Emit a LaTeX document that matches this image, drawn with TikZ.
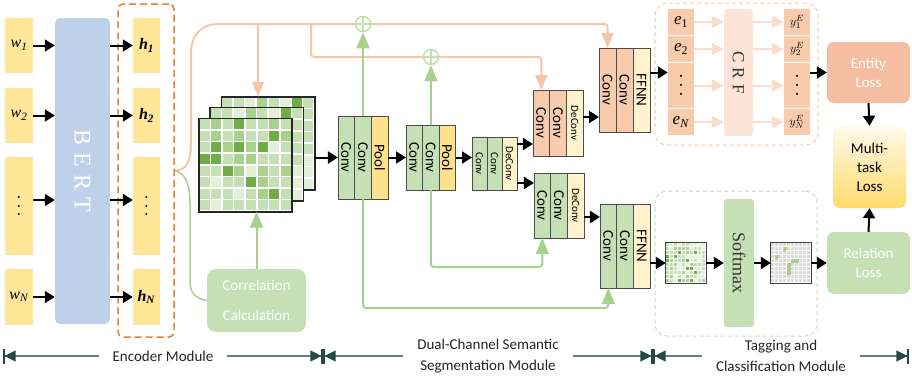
\documentclass[tikz,border=0pt]{standalone}
\usepackage{fontspec}
\setmainfont{Liberation Serif}
\setsansfont{Carlito}
\usepackage{graphicx}
\usetikzlibrary{arrows.meta,positioning,calc}

% colours
\definecolor{tokyel}{HTML}{FFE699}
\definecolor{bertblue}{HTML}{BFD1EA}
\definecolor{grn}{HTML}{C5E0B4}
\definecolor{org}{HTML}{F8CBAD}
\definecolor{lyel}{HTML}{FFF2CC}
\definecolor{poolyel}{HTML}{FFE18C}
\definecolor{orln}{HTML}{F7C6A5}
\definecolor{grln}{HTML}{A9D18E}
\definecolor{crfbg}{HTML}{FCE4D6}
\definecolor{crfline}{HTML}{FADCC8}
\definecolor{lossorg}{HTML}{F5BEA2}
\definecolor{encdash}{HTML}{ED7D31}
\definecolor{dimln}{HTML}{244848}
\definecolor{mtop}{HTML}{FFFAEB}
\definecolor{mbot}{HTML}{FFDA6A}
\definecolor{mc0}{HTML}{E2F0D9}
\definecolor{mc1}{HTML}{C5E0B4}
\definecolor{mc2}{HTML}{A9D18E}
\definecolor{mc3}{HTML}{70AD47}
\definecolor{gc}{HTML}{DADADA}

\newcommand{\vtxt}[1]{\rotatebox{-90}{#1}}
\newcommand{\vdts}{\rotatebox{90}{.\hspace{4.5pt}.\hspace{4.5pt}.}}
\newcommand{\pickshade}[1]{%
  \ifnum#1<1 \def\cc{mc3}\else\ifnum#1<3 \def\cc{mc2}\else\ifnum#1<8 \def\cc{mc1}\else\def\cc{mc0}\fi\fi\fi}

\begin{document}
\begin{tikzpicture}[x=1pt,y=-1pt,
    tok/.style={fill=tokyel, inner sep=0pt, minimum width=28pt, font=\fontsize{16}{16}\selectfont},
    col/.style={draw=black!70, line width=0.9pt, inner sep=0pt, outer sep=0pt, minimum width=16.7pt, font=\sffamily\fontsize{15}{15}\selectfont},
    scol/.style={col, font=\sffamily\fontsize{11}{11}\selectfont},
    blk/.style={line width=2pt, -{Triangle[length=10pt,width=12pt]}},
    orarr/.style={draw=orln, line width=2pt, rounded corners=3pt, -{Triangle[length=15pt,width=12pt]}},
    grarr/.style={draw=grln, line width=2pt, rounded corners=3pt, -{Triangle[length=16pt,width=13pt]}},
    crfarr/.style={draw=crfline, line width=2pt, -{Triangle[length=12pt,width=12pt]}},
    oplus/.style={circle, draw=grln!70, line width=1.5pt, fill=white, minimum size=15pt, inner sep=0pt},
    ecell/.style={fill=org, inner sep=0pt, minimum width=26pt, minimum height=26pt},
    loss/.style={rounded corners=7pt, inner sep=0pt, minimum width=83pt, align=center, text=white, font=\sffamily\fontsize{15}{19}\selectfont},
    region/.style={dash pattern=on 4pt off 3pt, rounded corners=12pt, line width=1pt, inner sep=0pt},
    cmat/.style={fill=white, minimum size=93pt, inner sep=0pt},
    smat/.style={fill=white, minimum size=40pt, inner sep=0pt},
    dim/.style={draw=dimln!70, line width=1.3pt,
      {Bar[width=15pt,line width=1.6pt,color=dimln]Triangle[length=11pt,width=11pt,color=dimln]}-{Triangle[length=11pt,width=11pt,color=dimln]Bar[width=15pt,line width=1.6pt,color=dimln]}},
    modlabel/.style={fill=white, inner xsep=14pt, inner ysep=0pt, align=center, text=black!85, font=\sffamily\fontsize{15}{21}\selectfont}
  ]
  \useasboundingbox (0,0) rectangle (912,380);

  % word tokens, BERT and hidden states
  \node[tok, minimum height=55pt] (w1) at (19,45.5) {\textit{w}\textsubscript{\textit{1}}};
  \node[tok, minimum height=55pt] (w2) at (19,115.5) {\textit{w}\textsubscript{\textit{2}}};
  \node[tok, minimum height=98pt] (wd) at (19,206) {\vdts};
  \node[tok, minimum height=56pt] (wn) at (19,297) {\textit{w}\textsubscript{\textit{N}}};
  \node[fill=bertblue, rounded corners=5pt, minimum width=55pt, minimum height=306pt, inner sep=0pt,
        text=white, font=\fontsize{24}{24}\selectfont] (bert) at (82.5,171) {\vtxt{B\hspace{7pt}E\hspace{7pt}R\hspace{7pt}T}};
  \node[tok, minimum width=27pt, minimum height=55pt] (h1) at (146.5,45.5) {\textbf{\textit{h}}\textsubscript{\textbf{\textit{1}}}};
  \node[tok, minimum width=27pt, minimum height=55pt] (h2) at (146.5,115.5) {\textbf{\textit{h}}\textsubscript{\textbf{\textit{2}}}};
  \node[tok, minimum width=27pt, minimum height=98pt] (hd) at (146.5,206) {\vdts};
  \node[tok, minimum width=27pt, minimum height=56pt] (hn) at (146.5,297) {\textbf{\textit{h}}\textsubscript{\textbf{\textit{N}}}};
  \node[draw=encdash, dash pattern=on 7pt off 4pt, line width=1.5pt, rounded corners=5pt,
        minimum width=56pt, minimum height=333pt, inner sep=0pt] (enc) at (146,170.5) {};

  \foreach \n in {1,2,n} {
    \draw[blk] (w\n.east) -- (w\n.east -| bert.west);
    \draw[blk] (h\n.west -| bert.east) -- (h\n.west);
  }
  \draw[blk] ($(wd.east)+(0,-6)$) -- ($(wd.east -| bert.west)+(0,-6)$);
  \draw[blk] ($(hd.west -| bert.east)+(0,-6)$) -- ($(hd.west)+(0,-6)$);

  % stacked correlation matrices, back two first
  \foreach \m/\cx/\cy in {mb/268/143.5, mm/256.75/154.25} {
    \node[cmat] (\m) at (\cx,\cy) {};
    \begin{scope}[shift={(\m.north west)}]
      \foreach \i in {0,...,7} \foreach \j in {0,...,7} {
        \pgfmathtruncatemacro\v{mod(\i*5+\j*3+\i*\j+4,11)}
        \pickshade{\v}
        \fill[\cc] (\j*11.625+0.8,\i*11.625+0.8) rectangle ++(10,10);
      }
    \end{scope}
    \draw[black!85, line width=1.6pt] (\m.north west) rectangle (\m.south east);
  }
  \node[cmat] (mf) at (245.5,165) {};
  \begin{scope}[shift={(mf.north west)}]
    \foreach \row [count=\i from 0] in {{1,2,1,3,1,1,2,1},{1,2,1,2,1,1,3,2},{1,3,2,3,2,3,0,1},{3,3,1,2,2,1,1,1},
                                        {1,1,3,2,0,2,1,2},{1,0,1,1,3,2,1,1},{1,1,1,0,1,2,3,1},{1,0,1,1,1,1,1,1}}
      \foreach \v [count=\j from 0] in \row
        \fill[mc\v] (\j*11.625+0.8,\i*11.625+0.8) rectangle ++(10,10);
  \end{scope}
  \draw[black!85, line width=1.6pt] (mf.north west) rectangle (mf.south east);

  \node[rounded corners=9pt, fill=grn, minimum width=99pt, minimum height=63pt, inner sep=0pt, align=center,
        text=white, font=\sffamily\fontsize{15}{30}\selectfont] (corr) at (256.5,300.5) {Correlation\\Calculation};

  % conv / pool stages
  \node[col, fill=grn, minimum height=83pt] (b1a) at (346.3,157.5) {\vtxt{Conv}};
  \node[col, fill=grn, minimum height=83pt, right=0pt of b1a] (b1b) {\vtxt{Conv}};
  \node[col, fill=poolyel, minimum height=83pt, right=0pt of b1b] (b1c) {\vtxt{Pool}};

  \node[col, fill=grn, minimum width=16.5pt, minimum height=65pt] (b2a) at (414.25,157.5) {\vtxt{Conv}};
  \node[col, fill=grn, minimum width=16.5pt, minimum height=65pt, right=0pt of b2a] (b2b) {\vtxt{Conv}};
  \node[col, fill=poolyel, minimum width=16.5pt, minimum height=65pt, right=0pt of b2b] (b2c) {\vtxt{Pool}};

  \node[scol, fill=grn, minimum width=15pt, minimum height=53pt] (b3a) at (479.5,163.5) {\vtxt{Conv}};
  \node[scol, fill=grn, minimum width=15pt, minimum height=53pt, right=0pt of b3a] (b3b) {\vtxt{Conv}};
  \node[scol, fill=lyel, minimum width=15pt, minimum height=53pt, right=0pt of b3b] (b3c) {\vtxt{DeConv}};

  % entity channel
  \node[col, fill=org, minimum height=66pt] (u1) at (541.3,123) {\vtxt{Conv}};
  \node[col, fill=org, minimum height=66pt, right=0pt of u1] (u2) {\vtxt{Conv}};
  \node[scol, fill=lyel, minimum height=66pt, right=0pt of u2] (u3) {\vtxt{DeConv}};
  \node[col, fill=org, minimum width=17pt, minimum height=84pt] (t1) at (607.5,90) {\vtxt{Conv}};
  \node[col, fill=org, minimum width=17pt, minimum height=84pt, right=0pt of t1] (t2) {\vtxt{Conv}};
  \node[col, fill=lyel, minimum width=17pt, minimum height=84pt, right=0pt of t2] (t3) {\vtxt{FFNN}};

  % relation channel
  \node[col, fill=grn, minimum height=65pt] (g1) at (542.3,205.5) {\vtxt{Conv}};
  \node[col, fill=grn, minimum height=65pt, right=0pt of g1] (g2) {\vtxt{Conv}};
  \node[scol, fill=lyel, minimum height=65pt, right=0pt of g2] (g3) {\vtxt{DeConv}};
  \node[col, fill=grn, minimum height=84pt] (f1) at (608.3,246) {\vtxt{Conv}};
  \node[col, fill=grn, minimum height=84pt, right=0pt of f1] (f2) {\vtxt{Conv}};
  \node[col, fill=lyel, minimum height=84pt, right=0pt of f2] (f3) {\vtxt{FFNN}};

  \draw[blk] (b1a.west -| mb.east) -- (b1a.west);
  \draw[blk] (b1c.east) -- (b1c.east -| b2a.west);
  \draw[blk] (b2c.east) -- (b2c.east -| b3a.west);
  \draw[blk] ($(b3c.north east)+(0,7)$) -- ($(b3c.north east -| u1.west)+(0,7)$);
  \draw[blk] ($(b3c.south east)+(0,-7)$) -- ($(b3c.south east -| g1.west)+(0,-7)$);
  \draw[blk] ($(u3.east)+(0,-6)$) -- ($(u3.east -| t1.west)+(0,-6)$);
  \draw[blk] ($(g3.east)+(0,11.5)$) -- ($(g3.east -| f1.west)+(0,11.5)$);

  % skip routes from the encoder
  \coordinate (j1) at (258,24);
  \coordinate (j2) at (311,24);
  \coordinate (p1) at (b1b.center |- j1);
  \coordinate (p2) at (431,57);
  \draw[orarr] (enc.east) .. controls (187,171) and (191,160) .. (191,140) -- (191,56)
    .. controls (191,36) and (200,24) .. (222,24) -| (t1.north);
  \draw[orarr] (j1) -- (j1 |- mb.north);
  \draw[orarr] (j2) |- (u1.north |- p2) -- (u1.north);
  \draw[grln, line width=1.5pt] (enc.east) .. controls (187,174) and (190,186) .. (190,205) -- (190,282)
    .. controls (190,294) and (197,299) .. (corr.west);
  \draw[grarr] (corr.north) -- (corr.north |- mf.south);

  \node[oplus] (o1) at (p1) {};
  \node[oplus] (o2) at (p2) {};
  \foreach \o in {o1,o2}
    \draw[grln!70, line width=1.5pt] (\o.north) -- (\o.south) (\o.west) -- (\o.east);
  \draw[grarr] (b1b.north) -- (o1.south);
  \draw[grarr] (b2b.north) -- (o2.south);
  \draw[grarr] (b1b.south) -- ++(0,109) -| (f1.south);
  \draw[grarr] (b2b.south) -- ++(0,77) -| (g1.south);

  % CRF tagging
  \node[draw=orln, region, minimum width=163pt, minimum height=142pt] (trg) at (736.5,74) {};
  \node[fill=crfbg, rounded corners=3pt, minimum width=29pt, minimum height=127pt, inner sep=0pt,
        text=black!80, font=\fontsize{17}{17}\selectfont] (crf) at (738.5,72.5) {\vtxt{C\hspace{5pt}R\hspace{5pt}F}};
  \node[ecell, font=\fontsize{17}{17}\selectfont] (e1) at (681,22) {\textit{e}\textsubscript{1}};
  \node[ecell, font=\fontsize{17}{17}\selectfont] (e2) at (681,49) {\textit{e}\textsubscript{2}};
  \node[ecell, minimum height=45pt, font=\fontsize{17}{17}\selectfont] (ed) at (681,85.5) {\vdts};
  \node[ecell, font=\fontsize{17}{17}\selectfont] (en) at (681,122) {\textit{e}\textsubscript{\textit{N}}};
  \node[ecell, font=\fontsize{13}{13}\selectfont] (y1) at (797,22) {$y^{E}_{1}$};
  \node[ecell, font=\fontsize{13}{13}\selectfont] (y2) at (797,49) {$y^{E}_{2}$};
  \node[ecell, minimum height=45pt, font=\fontsize{17}{17}\selectfont] (yd) at (797,85.5) {\vdts};
  \node[ecell, font=\fontsize{13}{13}\selectfont] (yn) at (797,122) {$y^{E}_{N}$};
  \foreach \n in {1,2,d,n} {
    \draw[crfarr] (e\n.east) -- (e\n.east -| crf.west);
    \draw[crfarr] (y\n.west -| crf.east) -- (y\n.west);
  }

  % relation classification
  \node[draw=grn, region, minimum width=162pt, minimum height=145pt] (brg) at (736,263.5) {};
  \node[fill=grn, rounded corners=3pt, minimum width=30pt, minimum height=128pt, inner sep=0pt,
        text=black!80, font=\fontsize{18}{18}\selectfont] (soft) at (739,263) {\vtxt{Softmax}};
  \node[smat] (gm) at (686,263) {};
  \begin{scope}[shift={(gm.north west)}]
    \foreach \i in {0,...,9} \foreach \j in {0,...,9} {
      \pgfmathtruncatemacro\v{mod(\i*\i*3+\j*\j*5+\i*\j*7+\i+2*\j+3,11)}
      \pickshade{\v}
      \fill[\cc] (\j*4+0.4,\i*4+0.4) rectangle ++(3.2,3.2);
    }
  \end{scope}
  \draw[black!75, line width=1pt] (gm.north west) rectangle (gm.south east);
  \node[smat] (gy) at (791,263) {};
  \begin{scope}[shift={(gy.north west)}]
    \foreach \i in {0,...,9} \foreach \j in {0,...,9}
      \fill[gc] (\j*4+0.4,\i*4+0.4) rectangle ++(3.2,3.2);
    \foreach \i/\j in {1/3,3/1,4/5,4/6,5/4,6/4,7/4}
      \fill[mc2] (\j*4,\i*4) rectangle ++(4,4);
  \end{scope}
  \draw[black!75, line width=1pt] (gy.north west) rectangle (gy.south east);

  % losses
  \node[loss, fill=lossorg, minimum height=61pt] (eloss) at (868.5,72.5) {Entity\\Loss};
  \node[loss, fill=grn, minimum height=62pt] (rloss) at (868.5,263) {Relation\\Loss};
  \node[loss, minimum width=73pt, minimum height=82pt, top color=mtop, bottom color=mbot, text=black] (mloss) at (869.5,167) {Multi-\\task\\Loss};

  \draw[blk] (t3.east |- eloss.west) -- (eloss.west -| e1.west);
  \draw[blk] (eloss.west -| y1.east) -- (eloss.west);
  \draw[blk] (f3.east |- gm.west) -- (gm.west);
  \draw[blk] (gm.east) -- (gm.east -| soft.west);
  \draw[blk] (gy.west -| soft.east) -- (gy.west);
  \draw[blk] (gy.east) -- (gy.east -| rloss.west);
  \draw[blk] (eloss.south) -- (mloss.north);
  \draw[blk] (rloss.north) -- (mloss.south);

  % module ranges
  \coordinate (d0) at (3,356);
  \coordinate (d1) at (323,356);
  \coordinate (d2) at (653,356);
  \coordinate (d3) at (909,356);
  \draw[dim] (d0) -- (d1);
  \draw[dim] (d1) -- (d2);
  \draw[dim] (d2) -- (d3);
  \node[modlabel] (lenc) at ($(d0)!0.5!(d1)$) {Encoder Module};
  \node[modlabel] (lseg) at ($(d1)!0.5!(d2)$) {Dual-Channel Semantic\\Segmentation Module};
  \node[modlabel] (ltag) at ($(d2)!0.5!(d3)$) {Tagging and\\Classification Module};
\end{tikzpicture}
\end{document}
